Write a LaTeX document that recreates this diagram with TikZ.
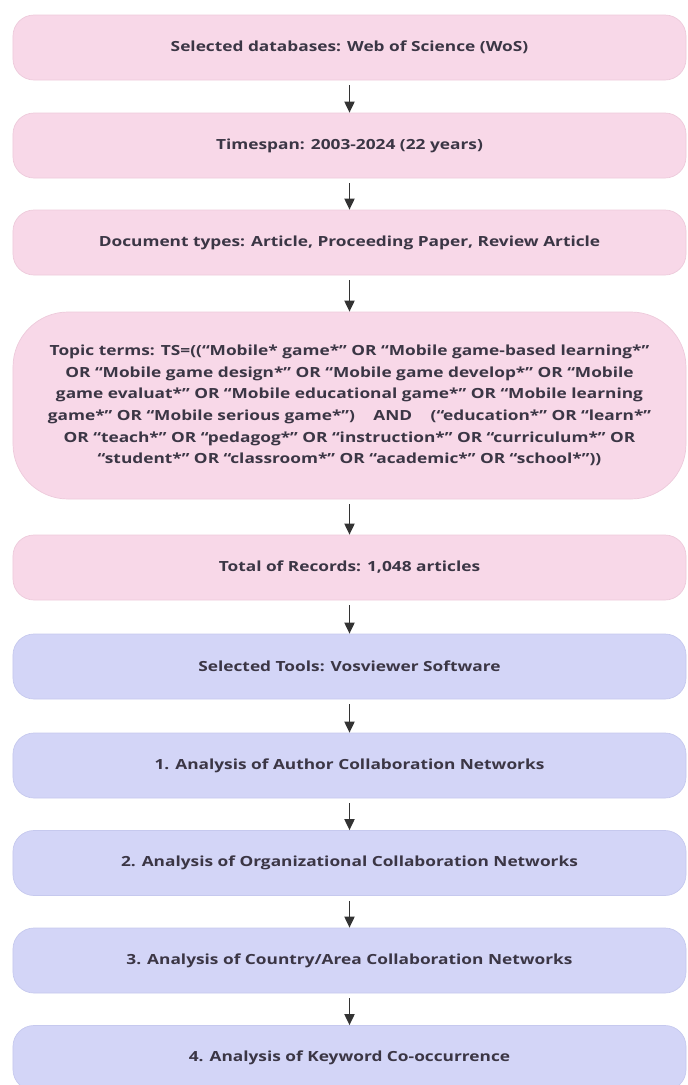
\documentclass[tikz,border=0pt]{standalone}
\usepackage{fontspec}
\setmainfont{Open Sans}[FakeStretch=1.24]
\usetikzlibrary{arrows.meta}
\definecolor{pinkfill}{HTML}{F8D8E8}
\definecolor{pinkline}{HTML}{EDCADB}
\definecolor{bluefill}{HTML}{D3D5F7}
\definecolor{blueline}{HTML}{C6C9EE}
\definecolor{txt}{HTML}{3B3645}
\definecolor{arrowc}{HTML}{333333}
\begin{document}
\begin{tikzpicture}[x=1bp,y=-1bp,
  base/.style={rectangle, rounded corners=21bp, minimum width=673bp, minimum height=65bp,
    line width=0.7bp, text=txt, align=center, inner sep=0pt,
    font=\fontsize{14}{21.7}\selectfont\bfseries},
  pbox/.style={base, fill=pinkfill, draw=pinkline},
  bbox/.style={base, fill=bluefill, draw=blueline},
  arr/.style={draw=arrowc, line width=1.8bp, -{Triangle[width=10bp,length=11bp]}, arrowc}]
\useasboundingbox (0,0) rectangle (688,1085);
\node[pbox] (b1) at (349.5,47.5) {Selected databases: Web of Science (WoS)};
\node[pbox] (b2) at (349.5,145.5) {Timespan: 2003-2024 (22 years)};
\node[pbox] (b3) at (349.5,242.5) {Document types: Article, Proceeding Paper, Review Article};
\node[pbox, minimum height=187bp, rounded corners=55bp] (b4) at (349.5,405.5)
  {Topic terms: TS=((“Mobile* game*” OR “Mobile game-based learning*”\\
   OR “Mobile game design*” OR “Mobile game develop*” OR “Mobile\\
   game evaluat*” OR “Mobile educational game*” OR “Mobile learning\\
   game*” OR “Mobile serious game*”)\quad\ AND\quad\ (“education*” OR “learn*”\\
   OR “teach*” OR “pedagog*” OR “instruction*” OR “curriculum*” OR\\
   “student*” OR “classroom*” OR “academic*” OR “school*”))};
\node[pbox] (b5) at (349.5,567.5) {Total of Records: 1,048 articles};
\node[bbox] (b6) at (349.5,666.5) {Selected Tools: Vosviewer Software};
\node[bbox] (b7) at (349.5,765.5) {1. Analysis of Author Collaboration Networks};
\node[bbox] (b8) at (349.5,863) {2. Analysis of Organizational Collaboration Networks};
\node[bbox] (b9) at (349.5,960.5) {3. Analysis of Country/Area Collaboration Networks};
\node[bbox] (b10) at (349.5,1058) {4. Analysis of Keyword Co-occurrence};
\foreach \a/\b in {b1/b2,b2/b3,b3/b4,b4/b5,b5/b6,b6/b7,b7/b8,b8/b9,b9/b10}
  \draw[arr] ([yshift=-5bp]\a.south) -- (\b.north);
\end{tikzpicture}
\end{document}
